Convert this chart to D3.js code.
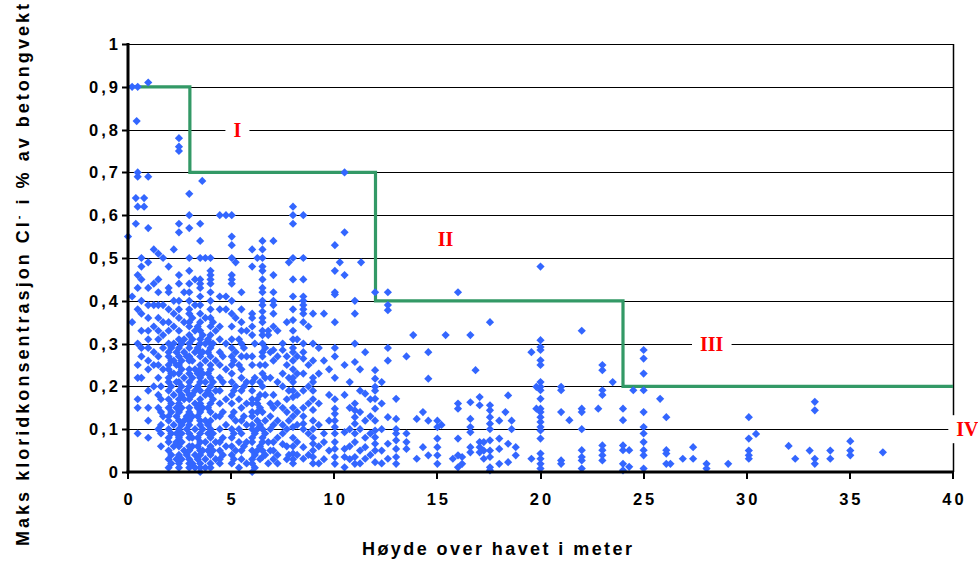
<!DOCTYPE html>
<html>
<head>
<meta charset="utf-8">
<script src="https://cdn.jsdelivr.net/npm/d3@7"></script>
<style>
  body { margin: 0; background: #fff; }
  svg { display: block; }
</style>
</head>
<body>
<svg id="chart" width="978" height="574"></svg>
<script>
// Målinger: [høyde over havet (m), [maks kloridinnhold (% av betongvekt), ...]]
const hoyde0til3 = [
  [0.0,  [0.55]],
  [0.2,  [0.90, 0.41, 0.35]],
  [0.38, [0.64, 0.58]],
  [0.42, [0.82]],
  [0.47, [0.90, 0.70, 0.69, 0.62, 0.46, 0.43, 0.38, 0.30, 0.25, 0.22, 0.17, 0.15, 0.09]],
  [0.65, [0.50, 0.48, 0.45, 0.40, 0.37, 0.33, 0.29, 0.27, 0.22]],
  [0.78, [0.64, 0.62]],
  [0.98, [0.91, 0.69, 0.57, 0.49, 0.43, 0.39, 0.36, 0.33, 0.31, 0.29, 0.26, 0.24, 0.19, 0.15, 0.12, 0.08]],
  [1.25, [0.52, 0.44, 0.39, 0.34, 0.28, 0.25, 0.20]],
  [1.47, [0.51, 0.45, 0.42, 0.39, 0.36, 0.33, 0.31, 0.27, 0.25, 0.22, 0.18, 0.15, 0.10]],
  [1.6,  [0.20, 0.17, 0.14, 0.11, 0.09, 0.06]],
  [1.7,  [0.50, 0.39, 0.35, 0.32, 0.29, 0.24, 0.13]],
  [1.97, [0.48, 0.43, 0.42, 0.38, 0.35, 0.33, 0.30, 0.28, 0.27, 0.25, 0.24, 0.22, 0.21, 0.19, 0.17, 0.15, 0.13, 0.12, 0.10, 0.08, 0.07, 0.05, 0.03, 0.01]],
  [2.1,  [0.29, 0.26, 0.23, 0.20, 0.16, 0.14, 0.09, 0.04, 0.02]],
  [2.22, [0.52, 0.40, 0.37, 0.34, 0.30, 0.26, 0.23, 0.18, 0.11, 0.06]],
  [2.35, [0.28, 0.25, 0.21, 0.15, 0.13, 0.09, 0.07, 0.03]],
  [2.47, [0.78, 0.76, 0.75, 0.58, 0.56, 0.46, 0.44, 0.40, 0.38, 0.36, 0.33, 0.31, 0.29, 0.27, 0.25, 0.23, 0.21, 0.19, 0.17, 0.16, 0.14, 0.12, 0.10, 0.08, 0.06, 0.04, 0.02, 0.01]],
  [2.6,  [0.30, 0.26, 0.24, 0.20, 0.18, 0.15, 0.11, 0.09, 0.07, 0.03]],
  [2.72, [0.42, 0.35, 0.31, 0.28, 0.22, 0.17, 0.12, 0.05]],
  [2.85, [0.27, 0.19, 0.13, 0.10, 0.04]],
  [2.97, [0.65, 0.60, 0.57, 0.50, 0.47, 0.44, 0.42, 0.40, 0.38, 0.37, 0.35, 0.34, 0.32, 0.30, 0.29, 0.27, 0.26, 0.24, 0.23, 0.21, 0.20, 0.18, 0.17, 0.15, 0.14, 0.12, 0.11, 0.09, 0.08, 0.06, 0.05, 0.03, 0.02, 0.01]]
];

const hoyde3til6 = [
  [3.12, [0.36, 0.31, 0.26, 0.22, 0.18, 0.13, 0.08, 0.06, 0.02]],
  [3.25, [0.45, 0.39, 0.33, 0.28, 0.24, 0.19, 0.16, 0.10, 0.04, 0.01]],
  [3.38, [0.34, 0.29, 0.23, 0.20, 0.15, 0.13, 0.08, 0.06, 0.03]],
  [3.5,  [0.58, 0.54, 0.50, 0.45, 0.44, 0.43, 0.41, 0.39, 0.37, 0.35, 0.33, 0.31, 0.30, 0.28, 0.27, 0.25, 0.24, 0.22, 0.21, 0.19, 0.17, 0.16, 0.14, 0.12, 0.11, 0.09, 0.07, 0.05, 0.04, 0.02, 0.01, 0.00]],
  [3.6,  [0.68]],
  [3.62, [0.32, 0.28, 0.23, 0.15, 0.10, 0.05]],
  [3.75, [0.50, 0.36, 0.30, 0.26, 0.21, 0.18, 0.12, 0.07, 0.03, 0.01]],
  [3.88, [0.31, 0.28, 0.23, 0.19, 0.15, 0.11, 0.09, 0.05]],
  [4.0,  [0.50, 0.47, 0.46, 0.45, 0.44, 0.42, 0.40, 0.38, 0.36, 0.34, 0.32, 0.30, 0.29, 0.27, 0.25, 0.24, 0.22, 0.20, 0.18, 0.16, 0.14, 0.12, 0.10, 0.08, 0.06, 0.04, 0.02, 0.01]],
  [4.12, [0.35, 0.30, 0.21, 0.17, 0.09, 0.05]],
  [4.25, [0.33, 0.26, 0.19, 0.13, 0.07, 0.03]],
  [4.45, [0.60, 0.41, 0.38, 0.34, 0.31, 0.28, 0.25, 0.22, 0.19, 0.16, 0.13, 0.10, 0.07, 0.05, 0.03, 0.02]],
  [4.6,  [0.27, 0.21, 0.14, 0.08, 0.04]],
  [4.75, [0.60, 0.41, 0.38, 0.30, 0.24, 0.17, 0.11, 0.06]],
  [5.03, [0.60, 0.55, 0.53, 0.50, 0.46, 0.45, 0.44, 0.40, 0.37, 0.34, 0.31, 0.29, 0.27, 0.25, 0.23, 0.21, 0.18, 0.16, 0.13, 0.10, 0.08, 0.06, 0.04, 0.02]],
  [5.13, [0.26, 0.19, 0.14, 0.09, 0.03]],
  [5.22, [0.49, 0.36, 0.28, 0.20, 0.12, 0.05]],
  [5.38, [0.31, 0.25, 0.17, 0.10, 0.07, 0.01]],
  [5.5,  [0.42, 0.38, 0.35, 0.33, 0.30, 0.27, 0.24, 0.22, 0.19, 0.15, 0.12, 0.09, 0.05, 0.03]],
  [5.62, [0.29, 0.20, 0.13, 0.06]],
  [5.75, [0.33, 0.27, 0.21, 0.16, 0.11, 0.07, 0.02]]
];

const hoyde6til10 = [
  [6.02, [0.52, 0.48, 0.37, 0.36, 0.34, 0.32, 0.27, 0.25, 0.21, 0.19, 0.17, 0.16, 0.14, 0.13, 0.11, 0.10, 0.08, 0.07, 0.05, 0.03, 0.02, 0.00]],
  [6.15, [0.30, 0.22, 0.09, 0.04, 0.01]],
  [6.27, [0.50, 0.17, 0.16, 0.14, 0.12, 0.10, 0.05]],
  [6.4,  [0.25, 0.21, 0.18, 0.15, 0.11, 0.06, 0.03]],
  [6.52, [0.54, 0.52, 0.50, 0.48, 0.47, 0.45, 0.43, 0.42, 0.40, 0.39, 0.375, 0.36, 0.35, 0.33, 0.32, 0.30, 0.28, 0.27, 0.23, 0.20, 0.14, 0.10, 0.08, 0.07, 0.05, 0.035]],
  [6.65, [0.29, 0.25, 0.22, 0.18, 0.12, 0.09, 0.04]],
  [6.8,  [0.33, 0.32, 0.07, 0.02]],
  [6.9,  [0.28, 0.22, 0.16, 0.13, 0.10, 0.05]],
  [7.05, [0.54, 0.46, 0.42, 0.40, 0.39, 0.37, 0.34, 0.285, 0.26, 0.18, 0.15, 0.11, 0.07, 0.05, 0.03]],
  [7.25, [0.33, 0.27, 0.21, 0.16, 0.12, 0.08, 0.04, 0.02]],
  [7.5,  [0.30, 0.285, 0.23, 0.20, 0.15, 0.11, 0.09, 0.065]],
  [7.7,  [0.35, 0.27, 0.25, 0.17, 0.14, 0.10, 0.06, 0.03]],
  [7.8,  [0.49, 0.22, 0.19, 0.12, 0.04]],
  [8.0,  [0.62, 0.60, 0.58, 0.50, 0.45, 0.41, 0.38, 0.355, 0.33, 0.31, 0.29, 0.28, 0.26, 0.24, 0.22, 0.21, 0.19, 0.175, 0.15, 0.13, 0.105, 0.08, 0.06, 0.043, 0.03, 0.02]],
  [8.2,  [0.31, 0.27, 0.23, 0.18, 0.14, 0.11, 0.07, 0.04]],
  [8.5,  [0.60, 0.50, 0.45, 0.41, 0.40, 0.39, 0.38, 0.37, 0.35, 0.30, 0.28, 0.265, 0.23, 0.19, 0.15, 0.13, 0.113, 0.10, 0.058, 0.031]],
  [8.75, [0.34, 0.25, 0.20, 0.16, 0.09, 0.04]],
  [8.97, [0.37, 0.30, 0.26, 0.22, 0.21, 0.19, 0.17, 0.145, 0.12, 0.10, 0.08, 0.066, 0.05, 0.035, 0.02]],
  [9.25, [0.29, 0.23, 0.16, 0.11, 0.06, 0.02]],
  [9.5,  [0.37, 0.26, 0.09, 0.07, 0.03]],
  [9.75, [0.24, 0.18, 0.12, 0.05]]
];

const hoyde10til19 = [
  [10.03, [0.53, 0.47, 0.42, 0.415, 0.35, 0.29, 0.27, 0.22, 0.17, 0.148, 0.136, 0.12, 0.105, 0.09, 0.07, 0.054, 0.035, 0.019]],
  [10.27, [0.49]],
  [10.5,  [0.70, 0.56, 0.46, 0.25, 0.18, 0.093, 0.054, 0.035, 0.011]],
  [10.75, [0.21, 0.15, 0.10, 0.06, 0.03]],
  [11.0,  [0.40, 0.37, 0.30, 0.257, 0.16, 0.144, 0.128, 0.113, 0.09, 0.07, 0.035, 0.019]],
  [11.25, [0.24, 0.19, 0.14, 0.10, 0.05, 0.02]],
  [11.3,  [0.49]],
  [11.5,  [0.28, 0.183, 0.12, 0.08, 0.058, 0.031]],
  [11.75, [0.17, 0.13, 0.09, 0.04]],
  [11.98, [0.42, 0.238, 0.218, 0.199, 0.19, 0.171, 0.148, 0.12, 0.097, 0.081, 0.066, 0.05, 0.023]],
  [12.3,  [0.21, 0.16, 0.10, 0.05, 0.02]],
  [12.6,  [0.42, 0.39, 0.378, 0.29, 0.26, 0.128, 0.066, 0.031]],
  [13.0,  [0.171, 0.124, 0.10, 0.09, 0.074, 0.054, 0.035, 0.019]],
  [13.5,  [0.27, 0.09, 0.07, 0.054]],
  [13.83, [0.32]],
  [14.0,  [0.124, 0.031]],
  [14.3,  [0.14, 0.058]],
  [14.56, [0.28, 0.218, 0.12, 0.039]],
  [15.0,  [0.12, 0.105, 0.078, 0.058, 0.039, 0.019]],
  [15.2,  [0.11]],
  [15.4,  [0.32]],
  [15.75, [0.031]],
  [16.0,  [0.42, 0.16, 0.148, 0.078, 0.039, 0.011]],
  [16.2,  [0.035, 0.019]],
  [16.6,  [0.32, 0.163, 0.124, 0.105, 0.093, 0.058, 0.046]],
  [16.85, [0.238]],
  [17.05, [0.175, 0.156, 0.07, 0.058, 0.046]],
  [17.25, [0.07, 0.05, 0.031]],
  [17.55, [0.35, 0.156, 0.144, 0.128, 0.113, 0.10, 0.074, 0.05, 0.035, 0.011, 0.004]],
  [18.0,  [0.12, 0.078, 0.054, 0.019]],
  [18.3,  [0.14]],
  [18.43, [0.179, 0.066, 0.023]],
  [18.6,  [0.12, 0.10]],
  [18.8,  [0.058, 0.039]]
];

const hoyde19til40 = [
  [19.56, [0.28, 0.031]],
  [19.8,  [0.199, 0.148]],
  [20.0,  [0.48, 0.308, 0.292, 0.285, 0.261, 0.25, 0.21, 0.199, 0.191, 0.171, 0.148, 0.14, 0.128, 0.117, 0.105, 0.097, 0.078, 0.043, 0.031, 0.019, 0.008]],
  [21.0,  [0.199, 0.191, 0.14, 0.027, 0.019]],
  [21.4,  [0.121]],
  [22.0,  [0.33, 0.148, 0.14, 0.10, 0.051, 0.035, 0.027, 0.008]],
  [22.8,  [0.148]],
  [23.0,  [0.25, 0.238, 0.191, 0.18, 0.062, 0.051, 0.039, 0.027]],
  [23.5,  [0.21]],
  [24.0,  [0.148, 0.121, 0.062, 0.051, 0.019, 0.004]],
  [24.3,  [0.051, 0.012]],
  [24.5,  [0.191]],
  [25.0,  [0.285, 0.265, 0.23, 0.191, 0.14, 0.105, 0.09, 0.07, 0.051, 0.039, 0.008]],
  [25.8,  [0.171]],
  [26.1,  [0.128, 0.051, 0.043, 0.019]],
  [26.3,  [0.019]],
  [26.9,  [0.031]],
  [27.4,  [0.058, 0.031]],
  [28.05, [0.019, 0.008]],
  [29.1,  [0.019]],
  [30.1,  [0.128, 0.078, 0.05, 0.039, 0.031]],
  [30.45, [0.089]],
  [32.03, [0.061]],
  [32.35, [0.031]],
  [33.05, [0.05]],
  [33.3,  [0.164, 0.144, 0.031, 0.019]],
  [34.05, [0.05, 0.031]],
  [35.02, [0.072, 0.05, 0.039]],
  [36.6,  [0.046]]
];

// Grenseverdier (trapp): høyde der sonen starter og tillatt verdi
const grenseHoyder = [0, 3, 12, 24, 40];
const grenseVerdier = [0.9, 0.7, 0.4, 0.2, 0.2];

// Soner
const soneNavn = ["I", "II", "III", "IV"];
const soneHoyde = [5.3, 15.4, 28.3, 40.7];
const soneVerdi = [0.8, 0.545, 0.3, 0.1];

// Akser
const xTicks = [0, 5, 10, 15, 20, 25, 30, 35, 40];
const yTicks = [0, 0.1, 0.2, 0.3, 0.4, 0.5, 0.6, 0.7, 0.8, 0.9, 1];
const yTickLabels = ["0", "0,1", "0,2", "0,3", "0,4", "0,5", "0,6", "0,7", "0,8", "0,9", "1"];
const xTittel = "Høyde over havet i meter";

// ---------- Tegning ----------
(function () {
  const svg = d3.select("#chart");
  const pL = 128, pR = 953, pT = 44, pB = 472;

  const x = d3.scaleLinear().domain([0, 40]).range([pL, pR]);
  const y = d3.scaleLinear().domain([0, 1]).range([pB, pT]);

  const punkter = [hoyde0til3, hoyde3til6, hoyde6til10, hoyde10til19, hoyde19til40]
    .flat()
    .flatMap(([h, verdier]) => verdier.map(v => ({ h, v })));

  const sans = "'Liberation Sans', Arial, sans-serif";

  // Horisontale rutelinjer
  svg.append("g")
    .selectAll("line")
    .data(yTicks.filter(t => t > 0))
    .join("line")
    .attr("x1", pL).attr("x2", pR)
    .attr("y1", d => Math.round(y(d)) + 0.5)
    .attr("y2", d => Math.round(y(d)) + 0.5)
    .attr("stroke", "#000").attr("stroke-width", 1);

  // Høyre ramme
  svg.append("line")
    .attr("x1", pR + 0.5).attr("x2", pR + 0.5)
    .attr("y1", pT).attr("y2", pB)
    .attr("stroke", "#000").attr("stroke-width", 1.5);

  // Grenselinje
  const trapp = d3.line()
    .x(d => x(d[0])).y(d => y(d[1]))
    .curve(d3.curveStepAfter);
  svg.append("path")
    .datum(grenseHoyder.map((h, i) => [h, grenseVerdier[i]]))
    .attr("d", trapp)
    .attr("fill", "none")
    .attr("stroke", "#339966")
    .attr("stroke-width", 3.2);

  // Målepunkter (ruter)
  const r = 4.1;
  svg.append("g")
    .selectAll("path")
    .data(punkter)
    .join("path")
    .attr("transform", d => `translate(${x(d.h)},${y(d.v)})`)
    .attr("d", `M0,${-r}L${r},0L0,${r}L${-r},0Z`)
    .attr("fill", "#3366ff");

  // Y-akse
  const yAxis = svg.append("g");
  yAxis.append("line")
    .attr("x1", pL).attr("x2", pL)
    .attr("y1", pT - 1).attr("y2", pB + 1.5)
    .attr("stroke", "#000").attr("stroke-width", 3);
  yAxis.selectAll("line.tick")
    .data(yTicks)
    .join("line").attr("class", "tick")
    .attr("x1", pL - 6).attr("x2", pL)
    .attr("y1", d => Math.round(y(d)) + 0.5).attr("y2", d => Math.round(y(d)) + 0.5)
    .attr("stroke", "#000").attr("stroke-width", 2);
  yAxis.selectAll("text")
    .data(yTicks)
    .join("text")
    .attr("x", 121)
    .attr("y", d => y(d) + 6)
    .attr("text-anchor", "end")
    .attr("font-family", sans).attr("font-weight", "bold")
    .attr("font-size", 16.5).attr("letter-spacing", 3)
    .text((d, i) => yTickLabels[i]);

  // X-akse
  const xAxis = svg.append("g");
  xAxis.append("line")
    .attr("x1", pL - 1.5).attr("x2", pR + 1)
    .attr("y1", pB).attr("y2", pB)
    .attr("stroke", "#000").attr("stroke-width", 3);
  xAxis.selectAll("line.tick")
    .data(xTicks)
    .join("line").attr("class", "tick")
    .attr("x1", d => Math.round(x(d))).attr("x2", d => Math.round(x(d)))
    .attr("y1", pB).attr("y2", pB + 7)
    .attr("stroke", "#000").attr("stroke-width", 2);
  xAxis.selectAll("text")
    .data(xTicks)
    .join("text")
    .attr("x", d => x(d) + 1.5)
    .attr("y", 505)
    .attr("text-anchor", "middle")
    .attr("font-family", sans).attr("font-weight", "bold")
    .attr("font-size", 16.5).attr("letter-spacing", 3)
    .text(d => d);

  // Aksetitler
  svg.append("text")
    .attr("x", 497).attr("y", 555)
    .attr("text-anchor", "middle")
    .attr("font-family", sans).attr("font-weight", "bold")
    .attr("font-size", 18)
    .attr("textLength", 270).attr("lengthAdjust", "spacing")
    .text(xTittel);

  const yTittel = svg.append("text")
    .attr("transform", "translate(29,275) rotate(-90)")
    .attr("text-anchor", "middle")
    .attr("font-family", sans).attr("font-weight", "bold")
    .attr("font-size", 18)
    .attr("textLength", 542).attr("lengthAdjust", "spacing");
  yTittel.append("tspan").text("Maks kloridkonsentrasjon Cl");
  yTittel.append("tspan").attr("font-size", 11).attr("dy", -7).text("-");
  yTittel.append("tspan").attr("dy", 7).text(" i % av betongvekt");

  // Soneetiketter med hvit bakgrunn
  const etiketter = svg.append("g");
  soneNavn.forEach((navn, i) => {
    const cx = x(soneHoyde[i]), cy = y(soneVerdi[i]);
    const g = etiketter.append("g");
    const t = g.append("text")
      .attr("x", cx).attr("y", cy + 7)
      .attr("text-anchor", "middle")
      .attr("font-family", "'Liberation Serif', 'Times New Roman', serif")
      .attr("font-weight", "bold").attr("font-size", 20)
      .attr("fill", "#ff0000")
      .text(navn);
    const bb = t.node().getBBox();
    g.insert("rect", "text")
      .attr("x", bb.x - 8).attr("y", bb.y - 3)
      .attr("width", bb.width + 16).attr("height", bb.height + 6)
      .attr("fill", "#fff");
  });
})();
</script>
</body>
</html>
